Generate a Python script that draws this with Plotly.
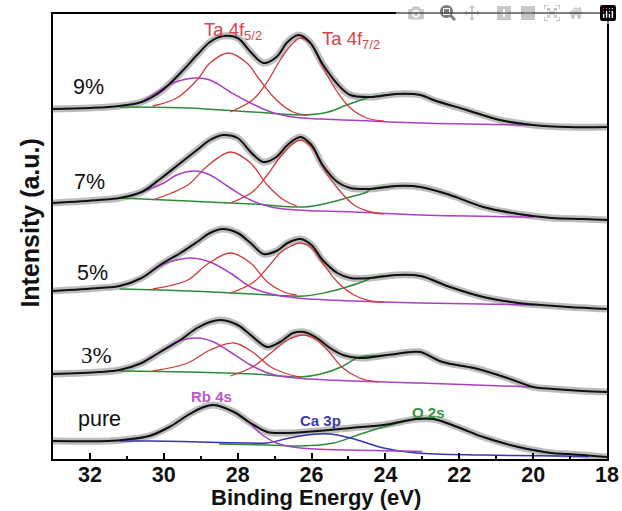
import plotly.graph_objects as go

# Binding energy (eV) and stacked intensity (a.u.)

# ---------- 9 % ----------
env9_be = [33.0, 32.0, 31.2, 30.6, 30.1, 29.55, 29.1, 28.75, 28.4, 28.0, 27.65, 27.3, 26.95, 26.65, 26.35,
           26.05, 25.7, 25.3, 24.95, 24.4, 23.7, 23.05, 22.7, 21.8, 20.9, 20.0, 19.05, 18.0]
env9_i = [350, 351, 353, 357, 367, 386, 404, 417, 423, 421, 407, 396, 402, 417, 424,
          417, 395, 375, 364, 362, 365, 364, 359, 349, 339, 334, 332, 332]
ta52_9_be = [30.3, 29.65, 29.1, 28.75, 28.25, 27.75, 27.4, 26.95, 26.5, 26.1]
ta52_9_i = [353, 361, 379, 396, 406, 396, 379, 359, 347, 344]
ta72_9_be = [28.2, 27.6, 27.2, 26.85, 26.55, 26.3, 26.0, 25.7, 25.3, 24.95, 24.5, 24.05]
ta72_9_i = [347, 359, 377, 399, 414, 421, 414, 392, 367, 351, 341, 338]
rb_9_be = [30.6, 30.3, 29.75, 29.15, 28.75, 28.2, 27.65, 27.1, 26.5, 25.75, 24.4, 23.05, 20.0]
rb_9_i = [357, 364, 376, 381, 379, 367, 356, 347, 342, 340, 338, 336, 334]
o2s_9_be = [31.2, 29.35, 27.6, 26.2, 25.55, 25.05, 24.5, 24.4, 23.7, 23.05, 22.7, 21.8, 20.9, 20.0]
o2s_9_i = [352, 351, 347, 344, 347, 354, 361, 362, 365, 364, 359, 349, 339, 334]

# ---------- 7 % ----------
env7_be = [33.0, 31.75, 31.2, 30.6, 30.1, 29.55, 29.1, 28.75, 28.4, 28.0, 27.65, 27.3, 26.95, 26.65, 26.3,
           26.0, 25.7, 25.3, 24.95, 24.4, 23.7, 23.05, 22.25, 21.35, 20.4, 19.5, 18.65, 18.0]
env7_i = [256, 259, 261, 267, 280, 296, 309, 319, 324, 321, 307, 297, 302, 314, 322,
          314, 294, 277, 271, 270, 273, 272, 264, 252, 245, 241, 240, 239]
ta52_7_be = [30.3, 29.35, 28.85, 28.2, 27.65, 27.2, 26.75, 26.4]
ta52_7_i = [259, 274, 292, 307, 296, 274, 259, 253]
ta72_7_be = [28.2, 27.6, 27.2, 26.85, 26.55, 26.3, 26.0, 25.7, 25.3, 24.85, 24.4, 24.05]
ta72_7_i = [256, 267, 284, 302, 314, 319, 312, 292, 271, 254, 247, 245]
rb_7_be = [30.6, 30.0, 29.65, 29.15, 28.75, 28.2, 27.65, 27.1, 26.4, 24.85, 23.05, 20.0]
rb_7_i = [267, 276, 284, 288, 284, 271, 259, 252, 249, 247, 244, 242]
o2s_7_be = [31.2, 29.35, 27.6, 26.2, 25.55, 25.05, 24.5, 24.4, 23.7, 23.05, 22.25, 21.35, 20.4, 20.0]
o2s_7_i = [261, 258, 255, 252, 256, 261, 267, 270, 273, 272, 264, 252, 245, 243]

# ---------- 5 % ----------
env5_be = [33.0, 31.75, 31.2, 30.6, 30.1, 29.55, 29.1, 28.75, 28.4, 28.0, 27.65, 27.3, 26.95, 26.65, 26.3,
           26.0, 25.7, 25.3, 24.95, 24.4, 23.7, 23.05, 22.25, 21.35, 20.4, 19.8, 19.05, 18.0]
env5_i = [168, 171, 173, 181, 194, 206, 217, 226, 230, 226, 216, 205, 208, 216, 220,
          214, 199, 186, 181, 181, 184, 183, 172, 162, 156, 154, 152, 150]
ta52_5_be = [30.3, 29.35, 28.85, 28.2, 27.65, 27.2, 26.75, 26.4]
ta52_5_i = [170, 179, 194, 206, 196, 177, 167, 164]
ta72_5_be = [28.2, 27.6, 27.2, 26.85, 26.55, 26.3, 26.0, 25.7, 25.3, 24.85, 24.4, 24.05]
ta72_5_i = [166, 176, 191, 206, 213, 216, 211, 196, 177, 164, 158, 157]
rb_5_be = [30.6, 30.0, 29.65, 29.25, 28.75, 28.2, 27.65, 27.1, 26.4, 24.85, 23.05, 19.95]
rb_5_i = [181, 195, 199, 201, 197, 186, 172, 165, 161, 158, 156, 154]
o2s_5_be = [31.2, 29.35, 27.6, 26.2, 25.55, 25.05, 24.5, 24.4, 23.7, 23.05, 22.25, 21.35, 20.4, 19.95]
o2s_5_i = [170, 168, 165, 163, 167, 172, 179, 181, 184, 183, 172, 162, 156, 154]

# ---------- 3 % ----------
env3_be = [33.0, 31.75, 31.2, 30.6, 30.1, 29.55, 29.1, 28.75, 28.45, 28.0, 27.65, 27.2, 26.85, 26.5, 26.2,
           25.85, 25.5, 25.15, 24.7, 23.95, 23.3, 23.05, 22.45, 21.6, 20.7, 20.0, 19.45, 18.65, 18.0]
env3_i = [85, 87, 89, 96, 107, 119, 131, 137, 139, 134, 124, 112, 117, 126, 127,
          121, 111, 104, 101, 104, 107, 107, 97, 91, 81, 72, 70, 68, 67]
ta52_3_be = [30.3, 29.35, 28.75, 28.1, 27.6, 27.1, 26.65, 26.3]
ta52_3_i = [88, 96, 109, 116, 107, 92, 85, 82]
ta72_3_be = [28.2, 27.6, 27.1, 26.65, 26.2, 25.85, 25.5, 25.15, 24.7, 24.2]
ta72_3_i = [83, 92, 106, 119, 124, 119, 106, 91, 81, 77]
rb_3_be = [30.6, 30.1, 29.6, 29.1, 28.65, 28.2, 27.65, 27.1, 26.4, 24.85, 23.05, 20.0]
rb_3_i = [96, 107, 118, 121, 117, 107, 94, 85, 81, 78, 76, 72]
o2s_3_be = [31.2, 29.35, 27.6, 26.3, 25.75, 25.2, 24.7, 23.95, 23.3, 23.05, 22.45, 21.6, 20.7, 20.0]
o2s_3_i = [88, 87, 85, 82, 85, 92, 102, 104, 107, 107, 97, 91, 81, 72]

# ---------- pure ----------
envp_be = [33.0, 31.5, 31.0, 30.4, 29.85, 29.3, 28.95, 28.65, 28.1, 27.65, 27.2, 26.75, 25.85, 24.95,
           24.05, 23.15, 22.7, 22.05, 21.35, 20.4, 19.5, 19.05, 18.0]
envp_i = [18, 18, 19.5, 23, 32, 45, 51.5, 54, 47, 36, 27, 26, 28, 31,
          34, 40, 40, 32, 22, 12, 6, 5, 2]
rbp_be = [31.0, 30.4, 29.85, 29.3, 28.95, 28.65, 28.1, 27.65, 27.4, 26.95, 26.3, 24.95, 23.6, 23.0]
rbp_i = [19.5, 23, 32, 45, 51.5, 54, 47, 35, 26, 16, 11, 9, 8, 7.5]
cap_be = [31.2, 30.4, 29.5, 28.5, 27.65, 27.2, 26.6, 25.85, 25.5, 24.95, 24.5, 24.05, 23.15, 21.35, 19.25, 18.5]
cap_i = [18, 18, 17.5, 16.5, 16, 16, 21, 25, 25, 21, 16, 11, 6, 4, 3, 2.5]
o2sp_be = [28.5, 27.2, 26.3, 25.4, 24.75, 24.05, 23.3, 23.15, 22.7, 22.05, 21.35, 20.4, 19.5]
o2sp_i = [15, 14, 13, 16, 24, 32, 39, 40, 40, 32, 22, 12, 6]

# labels
sample_labels = ["9%", "7%", "5%", "3%", "pure"]
sample_label_be = [32.04, 32.0, 31.92, 31.82, 31.73]
sample_label_i = [372, 277, 186, 104, 40]

BLACK = "#111111"
HALO = "rgba(165,165,165,0.75)"
RED = "#d23a3a"
MAG = "#a93fc4"
GREEN = "#2e8b3a"
BLUE = "#3535b0"

fig = go.Figure()


def line(x, y, color, width):
    fig.add_trace(go.Scatter(x=x, y=y, mode="lines", showlegend=False, hoverinfo="skip",
                             line=dict(color=color, width=width, shape="spline", smoothing=1.0)))


envelopes = [(env9_be, env9_i), (env7_be, env7_i), (env5_be, env5_i), (env3_be, env3_i), (envp_be, envp_i)]

# gray measured-data halo
for bx, iy in envelopes:
    line(bx, iy, HALO, 7)

# fitted components
for bx, iy in [(o2s_9_be, o2s_9_i), (o2s_7_be, o2s_7_i), (o2s_5_be, o2s_5_i), (o2s_3_be, o2s_3_i),
               (o2sp_be, o2sp_i)]:
    line(bx, iy, GREEN, 1.5)
line(cap_be, cap_i, BLUE, 1.5)
for bx, iy in [(rb_9_be, rb_9_i), (rb_7_be, rb_7_i), (rb_5_be, rb_5_i), (rb_3_be, rb_3_i), (rbp_be, rbp_i)]:
    line(bx, iy, MAG, 1.5)
for bx, iy in [(ta52_9_be, ta52_9_i), (ta72_9_be, ta72_9_i), (ta52_7_be, ta52_7_i), (ta72_7_be, ta72_7_i),
               (ta52_5_be, ta52_5_i), (ta72_5_be, ta72_5_i), (ta52_3_be, ta52_3_i), (ta72_3_be, ta72_3_i)]:
    line(bx, iy, RED, 1.3)

# envelopes
for bx, iy in envelopes:
    line(bx, iy, BLACK, 2)

annotations = []
for t, bx, iy in zip(sample_labels, sample_label_be, sample_label_i):
    if t == "3%":
        fnt = dict(family="Liberation Serif", size=23, color="#111111")
    else:
        fnt = dict(family="Arial", size=21.5, color="#111111")
    annotations.append(dict(x=bx, y=iy, text=t, showarrow=False, xanchor="center", yanchor="middle",
                            font=fnt))

annotations += [
    dict(x=28.96, y=428, text="Ta 4f<sub>5/2</sub>", showarrow=False, xanchor="left", yanchor="middle",
         font=dict(family="Arial", size=18.5, color="#d9434d")),
    dict(x=25.76, y=419, text="Ta 4f<sub>7/2</sub>", showarrow=False, xanchor="left", yanchor="middle",
         font=dict(family="Arial", size=18.5, color="#d9434d")),
    dict(x=28.72, y=63, text="Rb 4s", showarrow=False, xanchor="center", yanchor="middle",
         font=dict(family="Arial", size=15, color="#c058c4", weight="bold")),
    dict(x=25.76, y=39, text="Ca 3p", showarrow=False, xanchor="center", yanchor="middle",
         font=dict(family="Arial", size=15, color="#3c3caa", weight="bold")),
    dict(x=22.83, y=47, text="O 2s", showarrow=False, xanchor="center", yanchor="middle",
         font=dict(family="Arial", size=15, color="#2f9a3c", weight="bold")),
    dict(x=-0.0415, y=0.529, xref="paper", yref="paper", text="Intensity (a.u.)", showarrow=False,
         textangle=-90, xanchor="center", yanchor="middle",
         font=dict(family="Arial", size=25, color="#111111", weight="bold")),
    dict(x=0.4756, y=-0.0876, xref="paper", yref="paper", text="Binding Energy (eV)", showarrow=False,
         xanchor="center", yanchor="middle",
         font=dict(family="Arial", size=22, color="#111111", weight="bold")),
]

fig.update_layout(
    width=622, height=511,
    margin=dict(l=53, r=15, t=14, b=52, autoexpand=False),
    paper_bgcolor="white", plot_bgcolor="white",
    annotations=annotations,
    xaxis=dict(range=[33, 18], showline=True, linecolor="black", linewidth=2, mirror=True,
               automargin=False,
               ticks="inside", ticklen=6, tickwidth=2, tickcolor="black", tick0=18, dtick=2,
               minor=dict(ticks="inside", ticklen=3, tickwidth=1.5, dtick=1, tickcolor="black"),
               tickfont=dict(family="Arial", size=21.5, color="#111111", weight="bold"),
               ticklabelstandoff=-5,
               showgrid=False, zeroline=False),
    yaxis=dict(range=[0, 445], showline=True, linecolor="black", linewidth=2, mirror=True,
               automargin=False,
               showticklabels=False, ticks="", showgrid=False, zeroline=False),
)

fig.write_html("out.html",
               post_script="document.body.style.margin='0';document.body.style.overflow='hidden';")
